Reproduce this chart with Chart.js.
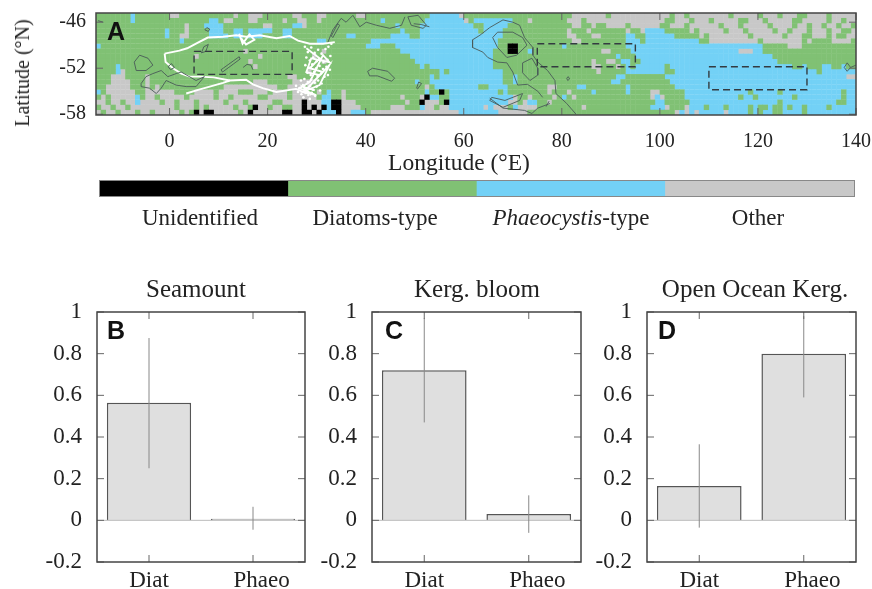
<!DOCTYPE html>
<html>
<head>
<meta charset="utf-8">
<title>Bloom types</title>
<script src="https://cdn.jsdelivr.net/npm/chart.js@4"></script>
<style>
html,body{margin:0;padding:0;background:#fff;}
body{width:872px;height:589px;position:relative;overflow:hidden;font-family:"Liberation Serif",serif;color:#222;}
canvas{position:absolute;display:block;filter:blur(0.4px);}
.lbl{position:absolute;white-space:nowrap;transform:translate(-50%,-50%);line-height:1;filter:blur(0.3px);}
.letter{font-family:"Liberation Sans",sans-serif;font-weight:bold;font-size:25px;color:#111;}
</style>
</head>
<body>
<canvas id="mapChart" width="872" height="178" style="left:0;top:0"></canvas>
<canvas id="keyChart" width="754" height="15" style="left:100px;top:181px;outline:1px solid #888"></canvas>
<canvas id="chartB" width="320" height="289" style="left:0;top:300px"></canvas>
<canvas id="chartC" width="280" height="289" style="left:315px;top:300px"></canvas>
<canvas id="chartD" width="282" height="289" style="left:590px;top:300px"></canvas>

<div class="lbl" style="left:22px;top:73px;font-size:20px;transform:translate(-50%,-50%) rotate(-90deg)">Latitude (°N)</div>
<div class="lbl" style="left:459px;top:163px;font-size:23.5px">Longitude (°E)</div>
<div class="lbl" style="left:200px;top:217px;font-size:23px">Unidentified</div>
<div class="lbl" style="left:375px;top:217px;font-size:23px">Diatoms-type</div>
<div class="lbl" style="left:571px;top:217px;font-size:23px"><i>Phaeocystis</i>-type</div>
<div class="lbl" style="left:758px;top:217px;font-size:23px">Other</div>
<div class="lbl" style="left:196px;top:288px;font-size:25px">Seamount</div>
<div class="lbl" style="left:477px;top:288px;font-size:25px">Kerg. bloom</div>
<div class="lbl" style="left:755px;top:288px;font-size:25px">Open Ocean Kerg.</div>
<div class="lbl letter" style="left:116px;top:31px">A</div>
<div class="lbl letter" style="left:116px;top:330px">B</div>
<div class="lbl letter" style="left:394px;top:330px">C</div>
<div class="lbl letter" style="left:667px;top:330px">D</div>

<script>
/* MAP DATA: 1 degree columns from 15W, one string per latitude row from the top.
   U unidentified, D diatoms, P phaeocystis, O other */
const mapRows = [
"DDDDDDDPDD DDDDDOODDD DDDDDDDDOD DOOODDDDDD OODDDOODDD DDDOODDDDD DDDDDDDDPP PPPPODDDDD DDDDDDDDDD DDDDDDDOOO OOOODOOOOO OOOOOOODOO DOOOOOOOOD OOOOODOOOD OOODDOOOOD OOOOO",
"DDDDDDDPDD DDDDDDDDDD DDDPPDOODD DOODDDDDOD DOODDODDDD DDDDDDDDPD DDDDDDDPPP PPPPPODPPP PPPPPDDDOD DDDDDDOOOD OOOOOOOOOO OOOOOODDOO ODOOODOOOO ODDOOODOOO OODDOOOOOD OODOO",
"DDDDDDDDDD DDDDDDDDOD DDPPPPDDDD DDDDOODDDD PPODDDDDDD DDDDDDDDDD DPDDDDPPPP PPPPPPPDDP PPPPDDDDDD DDDDDDDOOD DODDOOOODO OOOOODDOOO DOOOOOODOO ODOOOOODOO OODOODOODO ODOOD",
"DDDDDDDDDD DDDDPDDDOD DDDPPPDDPP DPPPPPDDPP DDDDDDDDDD DDDDDDDDDD DDPDDDPPPP PPPPPPPPDP PPPDDDDDDD DDDDDDODDD ODDDDDDDOD DOPPPPDDDD DODOOOOODO OODOOOOODO ODOOODOOOD OODDO",
"DDDDDDDDDD DDDDPDDOOD DDDPPPPDPP DPPPDDDDPP DDDDDDDDDD DPPDDDDDDD PPPPDDPPPP PPPPPPPPPP PPPDDDDDDD DDDDDDOODD DOODDDDDPP DDPPPPPPDD DDDODOOOOO OOODOOOOOO DOOODDOOOD ODDOO",
"DDDDDDDDDD DDDDDDDPDD DDDDDDDDDD DDDDDDDDDD DDDDDPPDDD DDDDDDPPPP PPPPPPPPPP PPPPPPPPPP PPDDDDDDDD DDDDDDDOOD DDDDDDDDPP PDPPPPPPPP PPPDDOOOOO OOOOODOOOO OOOODODDDD OOOOD",
"PDDDDDDDDD DDDDDDDDDD DDDDDDDDDD DDDDDDDDDD DDDDDDDDDD DDDDDPPPDD DPPPPPPPPP PPPPPPPPPP PPDDUUDDDD DDDDDPDDDD DDDDDDDDPP PPPPPPPPPP PPPPPPPPPP PPPPPPDDDD DOOODDDDDD DDDDD",
"DDDDDDDDDD DDDDDDDDDD DDDDDDDDDD ODDDDDDDDD DDDDDDODDD DDDDDDDDDD DDPPPPPPPP PPPPPPPPPP PDDDUUDDPD DDDDDDDDDD DDDOODDDDP PPPPPPPPPP PPPPPPPPPP POOOPPDDDD DDDDDDDDDD DDDDD",
"DDDDDDDDDD DDDDDDDDDD ODDDDDDDDD DDDODDDDDD DDDDODDDDD DDDDDDDDDD DDDDPPPPPP PPPPPPPPPP PDDDDDDDDD DDDDDDDDDD DDDDDDPDDD PPPPPPPPPP PPPPPPPPPP PPPPPPPPDD DDDDDDDDDD DDDDD",
"DDDDDDDDDD DDDDDDDDDD DDDDDDDDDD DODDDDDDDD DDDDDDODDD DDDDDDDDDD DDDDDPPPPP PPPPPPPPPP PDDDDDDDDD DDDDDDDDDD DODDOODPPD DPPPPPPPPP PPPPPPPPPP PPPPPPPPPD DDDDDDDDDD DDDDD",
"DDDDPDDDDD DDDDDDDDDD DDDDDDDDDD DDODDDDDDD DDDDDDDDDD DDDDDDDDDD DDDDDDPDPP PPPPPPPPPP PDDDDDDDDD DDDDDDDDDD DOODDDODPD PPPPPPDPPP PPPPPPPPPP PPPPPPPPPP PPDDPDDDPP DDPDD",
"DDDDPODDDD DDDDDDDDDD DDDDDDDDDD DDDDDDDDDD DDDODDDDDD DDDDDDDDDD DDDDDDDDDD PDPPPPPPPP PPPDDDDDDD DDDDDDDDDD DDODDDDDPP PPPPPPDDPP PPPPPPPPPP PPPPPPPPPP PPPPPPPDPP PPPPP",
"DDDOOODDDD ODDDDDDDDD DDDDDDDDDD DDDDDDDDDO ODDDDDDDDD DDDDDDDDDD DDDDDDDDPD PPPPPPPPPP PPPDDPDDDD DDDDDDDDDD DDDDDDPPDD DDDDDDPPPP PPPPPPPPPP PPPPPPPPPP PPPPPPPPPP PPPOO",
"DDDOOOODDD ODDDDDDDDD DDDDDDDDDD DDOOODDDDD OOOOODDDDD DDDDDDDDDD DDDDDPDDPP PPPPPPPPPP PPPDDPDDDD DDDDDDDDDD DDDDDPPDDD DDDDDDDPPP PPPPPPPPPP PPPPPPPPPP PPPPPPPPPP PPPPP",
"DDOOOOODDD ODODDDDDDD DDDDDDOOOO OOOOOOODDO OODODDDDDD DDDDDDDDDD DDDDDDDODP PPPPPPPPDD PPPPDDDDDD DDOODDDDPP DDDDDDDDPD DDDDDDDDPP PPPPPPPPPP PPPPPPPPPP PPPPPPPPPP PPPPP",
"PDOOOOOODD OOOOOODDDD OOOODOOOOD DDOOODOOOD OOODDODPDD ODDDDDDDDD DDDDDDDPDD UDPPPPPPPP PPDPDDDDDD DDODDDODDD DPDDDDDDPD DDDOODDDDD PPPPPPPPPP PPPDPPPPPD PPPPPPPPPP PPDPP",
"DODOOOOOPD OODOOOOODO OOOODOODOO OOODDOOOOD OOOOODPPDD ODDDDDDDDD DDODDDOUPP DDPPPPPPPP PPPPPODDOD DDDODPDODD DDDDDDDDDD DDDOPODDDD PPPPPPPPPP PDPPDPPPPP PPDPPPPPPP PPDPP",
"OODOODOOPO OOODOODOOO DOOOOODOOO DOOOOODDOO OOUOOOPPUU OOODDDDDDD DDDODDUOOO DUPPPPPPPP PPPPOODOPP DDODDDDDDD DDDDDDDDDD DDDDPPDDDD DPPPPPPPPP PPPPPPPPPD PPPPPPPPPP PDDPP",
"DOODOODOOO OOOOOODOOO DODOOOOODO ODUOODOODD OOUOUOUPUU OOOODDDDDD OOODDDPOOD OOPPPPPPPO POOODPOOOO DDDDDDDDDO DDDDDDDDDD DDDPPPODDD OPPPDPPPDP PPPDPDDPDD PDPPDPPPPD PPPPP",
"ODOODOOODO ODOOOOODOD UOUUOOOOOD OUOOOOOOUU OOUUOUPPPU OOPPPDOOOO OOOOOOOOOO OOOOPPPPPP PPOOOOOODD DDDDDDDDDD DDDDDDDDDD DDDDDDDDOP OPOPPPPPOP PPPDPDPPDD PPPPDPPPPP PPPPP"
];
const classCodes = ["U","D","P","O"];
const classNames = ["Unidentified","Diatoms-type","Phaeocystis-type","Other"];
const classColors = ["#000000","#80C174","#73D1F6","#C8C8C8"];

const lonTicks = [0,20,40,60,80,100,120,140];
const latTicks = [-58,-52,-46];
const latTop = -44.8;
const latBottom = -58.1;

/* dashed study boxes, lon/lat */
const boxSeamount = [[5,-49.8],[25,-49.8],[25,-52.8],[5,-52.8],[5,-49.8]];
const boxBloom = [[75,-48.8],[95,-48.8],[95,-51.8],[75,-51.8],[75,-48.8]];
const boxOpen = [[110,-51.8],[130,-51.8],[130,-54.8],[110,-54.8],[110,-51.8]];

/* contours, lon/lat */
const contours = [
[[-7.2,-51.2],[-6.1,-50.3],[-4.4,-50.7],[-3.4,-51.6],[-4.8,-52.3],[-6.8,-52.3],[-7.2,-51.2]],
[[-5.8,-54],[-4.8,-53.1],[-3.4,-52.7],[-1.7,-52.3],[-0.35,-53.1],[1.35,-52.7],[2.4,-52.5],[5.4,-53.6],[7.1,-53.1],[5.4,-54.4],[3.4,-54.4],[1.35,-54.2],[-0.7,-53.6],[-1.7,-54.6],[-2.7,-55.3],[-4.1,-54.6],[-5.8,-54.4],[-5.8,-54]],
[[6.5,-50],[7,-49.2],[7.9,-48.9],[7.4,-49.8],[6.5,-50]],
[[-0.3,-51.8],[0.4,-51.4],[1,-51.9],[0.2,-52.2],[-0.3,-51.8]],
[[10.5,-52.2],[14.2,-50.5],[14.4,-50.8],[10.8,-52.5],[10.5,-52.2]],
[[15,-51.9],[15.8,-51.5],[16.6,-51.6],[17,-52.2]],
[[7.2,-47],[7.6,-46.7],[8.2,-46.9],[7.9,-47.2],[7.2,-47]],
[[32.3,-48.6],[33.3,-47],[35,-45.5],[36,-46],[37.4,-45.1],[38.8,-46.6],[40.1,-46],[42.2,-46.4],[44.9,-46.8],[47.3,-46.4],[48,-45.3]],
[[33,-47.8],[34.3,-46.2],[34.7,-46.4],[33.3,-48],[33,-47.8]],
[[48.6,-45.3],[50.7,-45.1],[52.4,-46.4],[51.7,-46.8],[49.3,-46.4],[48.6,-45.3]],
[[49.8,-46.2],[51.3,-46.3],[53,-46.6]],
[[40.4,-52.4],[41.4,-52],[44.5,-52.4],[45.9,-53.3],[45.3,-53.7],[42.4,-53],[40.8,-53],[40.4,-52.4]],
[[50.4,-54.6],[50.8,-53.8],[51.4,-54],[50.6,-54.7],[50.4,-54.6]],
[[61.8,-48.3],[63.3,-47.7],[65.3,-46.7],[68,-45.7],[70,-46],[71.4,-46.4],[72.4,-48],[74.1,-49.3],[74.1,-50.3],[75.1,-51.2],[77.1,-52.3],[78.6,-53.6],[78.8,-55.3],[81,-56.6],[82.9,-58]],
[[61.8,-48.3],[61.8,-49.3],[63.9,-49.9],[64.9,-50.6],[66.9,-51.2],[68.8,-51.3],[70,-52.5],[71,-54.2],[73,-54.1],[75.1,-55],[76.1,-55.8]],
[[65.9,-48],[66.9,-47.3],[70,-47.3],[72,-48],[72.9,-49],[70.8,-50.3],[68.8,-50.6],[66.9,-49.3],[65.9,-48]],
[[72,-51.3],[73.9,-50.7],[75.1,-52],[75.1,-52.9],[73.5,-53.6],[72,-52.6],[72,-51.3]],
[[65.7,-55.8],[68.4,-56.2],[72,-55.3],[71.4,-56.2],[68,-57.1],[65.3,-56.2],[65.7,-55.8]],
[[65.3,-55.9],[68,-57.2],[72.4,-57.5],[73.9,-57.9],[75.1,-57.2],[77.6,-56.6]],
[[81,-53.3],[81.3,-53.1],[81.6,-53.4],[81.2,-53.6],[81,-53.3]],
[[76.8,-57],[77.4,-56.3]],
[[137.6,-51.9],[138.2,-51.3],[138.9,-51.9],[138.2,-52.4],[137.6,-51.9]],
[[138.9,-51.9],[140,-51.6]],
[[-14.6,-45.8],[-13.5,-46]]
];

/* white float tracks, lon/lat */
const tracks = [
[[-1,-50.1],[2,-49.7],[3.6,-49.4],[5.4,-48.8],[7.8,-48],[10.9,-47.9],[13.6,-47.7],[15.6,-47.9],[18.4,-47.7],[21.8,-48.1],[24.5,-47.8],[26.2,-48.4],[28.6,-48.8],[31.3,-48.8],[33.7,-48.6]],
[[14.2,-47.5],[14.9,-48.8],[16.3,-47.6],[17.3,-48.3],[15.6,-48.9],[14.6,-48.1]],
[[-1,-50.1],[-0.8,-51.2],[0.7,-52],[2.4,-52.7],[4.1,-53.1],[6.1,-53.1],[9,-53.2],[12.3,-53.6]],
[[3.4,-55.3],[6,-54.8],[8.2,-54.4],[10.9,-53.9],[12.3,-53.6],[15.6,-53.5],[17,-54.1],[19,-54.6],[21.8,-55.1],[25.8,-54.7],[28,-55.3]],
[[27.9,-49.4],[30.6,-50.7],[28.6,-52],[31.3,-52.5],[29.3,-53.8],[32.6,-51.6],[30.6,-54.2],[27.2,-55.1],[29.9,-55.5],[26.5,-54.6],[28.6,-53.8],[31.3,-50.3],[32.6,-51.2],[28.9,-50.7],[27.9,-52.5],[30.6,-52.9],[28.2,-54.6],[29.6,-54.9],[27.2,-54.4],[28.9,-55.5]]
];
const floatPoints = [
[27.6,-49.2],[28.2,-49.9],[28.9,-49.3],[29.6,-50],[30.3,-49.6],[31,-50.1],[31.8,-49.5],[32.4,-49.2],[33,-48.8],
[27.9,-50.6],[28.6,-51],[29.3,-50.6],[30,-51.1],[30.7,-50.8],[31.4,-51.2],[32.2,-50.9],[32.8,-50.4],
[27.7,-51.6],[28.4,-51.9],[29.1,-51.5],[29.9,-52],[30.6,-51.7],[31.3,-52.1],[32,-51.8],[32.7,-52.2],
[28.1,-52.6],[28.8,-52.9],[29.5,-52.5],[30.2,-53],[30.9,-52.7],[31.6,-53.1],[32.3,-52.9],
[26.8,-53.6],[27.5,-53.4],[28.2,-53.8],[28.9,-53.5],[29.6,-53.9],[30.3,-53.6],[31,-54],
[25.8,-54.3],[26.5,-54.6],[27.2,-54.2],[27.9,-54.7],[28.6,-54.3],[29.3,-54.8],[30,-54.4],[30.7,-54.9],
[26.2,-55.1],[26.9,-55.4],[27.6,-55],[28.3,-55.5],[29,-55.2],[29.7,-55.6],[27.3,-55.8],[28.6,-56]
];

/* BAR DATA */
const barLabels = ["Diat","Phaeo"];
const barTicks = [-0.2,0,0.2,0.4,0.6,0.8,1];
const seamountValues = [0.565,0.008];
const seamountLow = [0.25,-0.045];
const seamountHigh = [0.875,0.065];
const bloomValues = [0.72,0.03];
const bloomLow = [0.47,-0.06];
const bloomHigh = [0.97,0.12];
const openValues = [0.165,0.8];
const openLow = [-0.035,0.59];
const openHigh = [0.365,0.98];

/* ticks drawn inward from both sides of the frame, gnuplot style */
const insideTicks = {
  id:"insideTicks",
  afterDatasetsDraw(chart){
    const c = chart.ctx, a = chart.chartArea, len = 7;
    c.save();
    c.strokeStyle = "#666";
    c.lineWidth = 1;
    c.beginPath();
    chart.scales.x.ticks.forEach((t,i)=>{
      const px = chart.scales.x.getPixelForTick(i);
      c.moveTo(px,a.top); c.lineTo(px,a.top+len);
      c.moveTo(px,a.bottom); c.lineTo(px,a.bottom-len);
    });
    chart.scales.y.ticks.forEach((t,i)=>{
      const py = chart.scales.y.getPixelForTick(i);
      c.moveTo(a.left,py); c.lineTo(a.left+len,py);
      c.moveTo(a.right,py); c.lineTo(a.right-len,py);
    });
    c.stroke();
    c.strokeStyle = "#444";
    c.lineWidth = 1.5;
    c.strokeRect(a.left,a.top,a.right-a.left,a.bottom-a.top);
    c.restore();
  }
};

/* fixed axis box, no extra room for the end labels */
function fitY(s,w){
  s.width = w;
  s.paddingTop = 0;
  s.paddingBottom = 0;
}
function fitX(s,h){
  s.height = h;
  s.paddingLeft = 0;
  s.paddingRight = 0;
}

/* MAP */
const cellData = classCodes.map(()=>[]);
const rowHeight = (latTop-latBottom)/mapRows.length;
mapRows.forEach((row,r)=>{
  row.split(" ").forEach((chunk,k)=>{
    for(let i=0;i<chunk.length;i++){
      const idx = classCodes.indexOf(chunk[i]);
      cellData[idx].push({x:-15+k*10+i+0.5, y:latTop-(r+0.5)*rowHeight});
    }
  });
});

const toPoints = list => list.map(p=>({x:p[0],y:p[1]}));
const lineSet = (list,color,width,dash) => ({
  type:"scatter",data:toPoints(list),showLine:true,pointRadius:0,
  borderColor:color,borderWidth:width,borderDash:dash||[],fill:false,tension:0
});

/* first dataset is painted last */
const mapSets = [];
[boxSeamount,boxBloom,boxOpen].forEach(b=>mapSets.push(lineSet(b,"#333b40",1.4,[7,4])));
contours.forEach(t=>mapSets.push(lineSet(t,"#4a5a58",0.9)));
tracks.forEach(t=>mapSets.push(lineSet(t,"#ffffff",1.9)));
mapSets.push({type:"scatter",data:toPoints(floatPoints),pointRadius:1.3,pointBorderWidth:0,pointBackgroundColor:"#ffffff"});
[0,1,2,3].forEach(i=>{
  mapSets.push({
    type:"scatter",label:classNames[i],data:cellData[i],
    pointStyle:"rect",pointRadius:3.8,pointBorderWidth:0,pointBackgroundColor:classColors[i]
  });
});

new Chart(document.getElementById("mapChart"),{
  type:"scatter",
  data:{datasets:mapSets},
  plugins:[insideTicks],
  options:{
    responsive:false,animation:false,events:[],
    layout:{padding:{top:13,right:16,left:0,bottom:0}},
    plugins:{legend:{display:false},tooltip:{enabled:false}},
    scales:{
      x:{
        type:"linear",min:-15,max:140,
        afterBuildTicks(s){s.ticks = lonTicks.map(v=>({value:v}));},
        afterFit(s){fitX(s,63);},
        grid:{display:false,drawTicks:false},border:{display:false},
        ticks:{padding:15,maxRotation:0,autoSkip:false,color:"#222",font:{family:"Liberation Serif",size:20}}
      },
      y:{
        type:"linear",min:latBottom,max:latTop,
        afterBuildTicks(s){s.ticks = latTicks.map(v=>({value:v}));},
        afterFit(s){fitY(s,96);},
        grid:{display:false,drawTicks:false},border:{display:false},
        ticks:{padding:10,autoSkip:false,color:"#222",font:{family:"Liberation Serif",size:20}}
      }
    }
  }
});

/* COLOUR KEY */
new Chart(document.getElementById("keyChart"),{
  type:"bar",
  data:{
    labels:classNames,
    datasets:[{data:classNames.map(()=>1),backgroundColor:classColors,barPercentage:1,categoryPercentage:1,borderWidth:0}]
  },
  options:{
    responsive:false,animation:false,events:[],
    plugins:{legend:{display:false},tooltip:{enabled:false}},
    scales:{x:{display:false},y:{display:false,min:0,max:1}}
  }
});

/* BAR PANELS */
function drawPanel(id,values,low,high,leftWidth,rightPad){
  const errorBars = {
    id:"errorBars",
    afterDatasetsDraw(chart){
      const c = chart.ctx, a = chart.chartArea, sx = chart.scales.x, sy = chart.scales.y;
      c.save();
      /* pale zero line */
      c.strokeStyle = "#bbb";
      c.lineWidth = 1;
      c.beginPath();
      c.moveTo(a.left,sy.getPixelForValue(0));
      c.lineTo(a.right,sy.getPixelForValue(0));
      c.stroke();
      c.strokeStyle = "#888";
      c.beginPath();
      values.forEach((v,i)=>{
        const px = sx.getPixelForValue(i);
        c.moveTo(px,sy.getPixelForValue(low[i]));
        c.lineTo(px,sy.getPixelForValue(high[i]));
      });
      c.stroke();
      c.restore();
    }
  };
  return new Chart(document.getElementById(id),{
    type:"bar",
    data:{
      labels:barLabels,
      datasets:[{data:values,backgroundColor:"#DFDFDF",borderColor:"#555",borderWidth:1.5,barPercentage:0.81,categoryPercentage:1}]
    },
    plugins:[errorBars,insideTicks],
    options:{
      responsive:false,animation:false,events:[],
      layout:{padding:{top:12,right:rightPad,left:0,bottom:0}},
      plugins:{legend:{display:false},tooltip:{enabled:false}},
      scales:{
        x:{
          grid:{display:false,drawTicks:false},border:{display:false},
          afterFit(s){fitX(s,27);},
          /* the reference sets Phaeo a little right of its tick */
          ticks:{padding:5,color:"#222",font:{family:"Liberation Serif",size:23},
            callback(v,i){return i==1 ? "\u00a0\u00a0\u00a0"+barLabels[i] : barLabels[i];}}
        },
        y:{
          min:-0.2,max:1,
          afterBuildTicks(s){s.ticks = barTicks.map(v=>({value:v}));},
          afterFit(s){fitY(s,leftWidth);},
          grid:{display:false,drawTicks:false},border:{display:false},
          ticks:{padding:15,autoSkip:false,color:"#222",font:{family:"Liberation Serif",size:23},callback:v=>String(v)}
        }
      }
    }
  });
}

drawPanel("chartB",seamountValues,seamountLow,seamountHigh,97,15);
drawPanel("chartC",bloomValues,bloomLow,bloomHigh,57,14);
drawPanel("chartD",openValues,openLow,openHigh,57,16);
</script>
</body>
</html>
